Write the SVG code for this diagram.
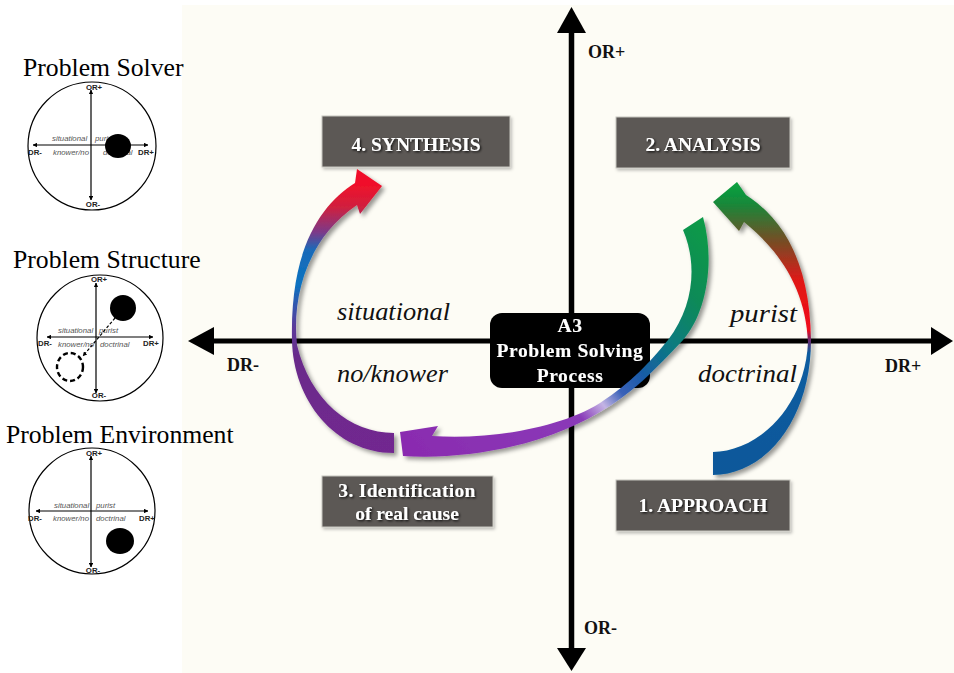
<svg xmlns="http://www.w3.org/2000/svg" width="954" height="673" viewBox="0 0 954 673">
<defs>
<style>
.serif{font-family:"Liberation Serif","Times New Roman",serif}
.sans{font-family:"Liberation Sans",Arial,sans-serif}
.title{font-size:25.7px;fill:#000}
.ax{font-size:7.8px;font-weight:bold;fill:#222}
.q{font-size:7.8px;font-style:italic;fill:#555}
.mini{stroke:#000;stroke-width:1.2;fill:none}
.box{fill:#5b5854;stroke:#c8c6c0;stroke-width:1}
.btxt{font-size:19.5px;font-weight:bold;fill:#fff;text-anchor:middle}
.lbl{font-size:26px;font-style:italic;fill:#111}
.axl{font-size:18px;font-weight:bold;fill:#111}
</style>
<marker id="sm" viewBox="0 0 6 6" refX="5.5" refY="3" markerWidth="4.5" markerHeight="4.5" orient="auto-start-reverse" markerUnits="userSpaceOnUse">
<path d="M0,0 L6,3 L0,6 z" fill="#000"/>
</marker>
<filter id="sh" x="-20%" y="-20%" width="140%" height="140%">
<feDropShadow dx="3" dy="3" stdDeviation="2" flood-color="#000" flood-opacity="0.4"/>
</filter>
<filter id="tsh" x="-10%" y="-30%" width="120%" height="160%">
<feDropShadow dx="1.2" dy="1.2" stdDeviation="0.8" flood-color="#000" flood-opacity="0.85"/>
</filter>
<filter id="bsh" x="-10%" y="-20%" width="120%" height="150%">
<feDropShadow dx="1.5" dy="2" stdDeviation="1.5" flood-color="#000" flood-opacity="0.25"/>
</filter>
<linearGradient id="gA" gradientUnits="userSpaceOnUse" x1="0" y1="185" x2="0" y2="475">
<stop offset="0" stop-color="#0aa040"/>
<stop offset="0.06" stop-color="#158a3a"/>
<stop offset="0.2" stop-color="#7a4a24"/>
<stop offset="0.33" stop-color="#e01818"/>
<stop offset="0.5" stop-color="#f00a1a"/>
<stop offset="0.535" stop-color="#6a2a70"/>
<stop offset="0.58" stop-color="#0a5ca0"/>
<stop offset="1" stop-color="#08589a"/>
</linearGradient>
<linearGradient id="gB" gradientUnits="userSpaceOnUse" x1="700" y1="220" x2="420" y2="450">
<stop offset="0" stop-color="#0a9a48"/>
<stop offset="0.15" stop-color="#0a8a58"/>
<stop offset="0.28" stop-color="#0a7a80"/>
<stop offset="0.40" stop-color="#1a5aa8"/>
<stop offset="0.47" stop-color="#3a62b8"/>
<stop offset="0.53" stop-color="#c4b4e4"/>
<stop offset="0.6" stop-color="#8a3ab8"/>
<stop offset="1" stop-color="#8a2cb0"/>
</linearGradient>
<linearGradient id="gC" gradientUnits="userSpaceOnUse" x1="0" y1="170" x2="0" y2="455">
<stop offset="0.05" stop-color="#f0102a"/>
<stop offset="0.13" stop-color="#d0203e"/>
<stop offset="0.22" stop-color="#7a3a8a"/>
<stop offset="0.28" stop-color="#1a6ab8"/>
<stop offset="0.4" stop-color="#0a72c0"/>
<stop offset="0.55" stop-color="#5a3a9a"/>
<stop offset="0.66" stop-color="#6a2a8a"/>
<stop offset="1" stop-color="#722890"/>
</linearGradient>
</defs>

<rect x="0" y="0" width="954" height="673" fill="#ffffff"/>
<rect x="182" y="5" width="772" height="668" fill="#fdfcf5"/>

<!-- left panel -->
<g id="panel-solver">
<text class="serif title" x="23" y="76">Problem Solver</text>
<circle class="mini" cx="92" cy="146" r="64"/>
<line class="mini" x1="91" y1="90" x2="91" y2="200" marker-start="url(#sm)" marker-end="url(#sm)"/>
<line class="mini" x1="33" y1="145" x2="148" y2="145" marker-start="url(#sm)" marker-end="url(#sm)"/>
<text class="sans ax" x="94" y="89.5" text-anchor="middle">OR+</text>
<text class="sans ax" x="93" y="207" text-anchor="middle">OR-</text>
<text class="sans ax" x="28" y="155">DR-</text>
<text class="sans ax" x="138" y="155">DR+</text>
<text class="sans q" x="52" y="141">situational</text>
<text class="sans q" x="95" y="141">purist</text>
<text class="sans q" x="53" y="155">knower/no</text>
<text class="sans q" x="103" y="155">doctrinal</text>
<ellipse cx="118" cy="146" rx="13" ry="12" fill="#000"/>
</g>

<g id="panel-structure">
<text class="serif title" x="13" y="268">Problem Structure</text>
<circle class="mini" cx="100" cy="338" r="63"/>
<line class="mini" x1="96" y1="283" x2="96" y2="393" marker-start="url(#sm)" marker-end="url(#sm)"/>
<line class="mini" x1="47" y1="337" x2="153" y2="337" marker-start="url(#sm)" marker-end="url(#sm)"/>
<text class="sans ax" x="99" y="282" text-anchor="middle">OR+</text>
<text class="sans ax" x="99" y="398" text-anchor="middle">OR-</text>
<text class="sans ax" x="38" y="346">DR-</text>
<text class="sans ax" x="143" y="346">DR+</text>
<text class="sans q" x="58" y="333">situational</text>
<text class="sans q" x="99" y="333">purist</text>
<text class="sans q" x="58" y="347">knower/no</text>
<text class="sans q" x="100" y="347">doctrinal</text>
<ellipse cx="123" cy="308" rx="13" ry="13" fill="#000"/>
<ellipse cx="70" cy="367" rx="13" ry="14" fill="none" stroke="#000" stroke-width="2.4" stroke-dasharray="5,3"/>
<line x1="115" y1="318" x2="83" y2="356" stroke="#000" stroke-width="1.2" stroke-dasharray="3,2" marker-end="url(#sm)"/>
</g>

<g id="panel-environment">
<text class="serif title" x="6" y="443">Problem Environment</text>
<circle class="mini" cx="92" cy="511" r="63"/>
<line class="mini" x1="91" y1="456" x2="91" y2="567" marker-start="url(#sm)" marker-end="url(#sm)"/>
<line class="mini" x1="36" y1="511" x2="148" y2="511" marker-start="url(#sm)" marker-end="url(#sm)"/>
<text class="sans ax" x="94" y="455.5" text-anchor="middle">OR+</text>
<text class="sans ax" x="93" y="573" text-anchor="middle">OR-</text>
<text class="sans ax" x="28" y="521">DR-</text>
<text class="sans ax" x="139" y="521">DR+</text>
<text class="sans q" x="54" y="508">situational</text>
<text class="sans q" x="96" y="508">purist</text>
<text class="sans q" x="53" y="521">knower/no</text>
<text class="sans q" x="96" y="521">doctrinal</text>
<ellipse cx="120" cy="541" rx="14" ry="13" fill="#000"/>
</g>

<!-- main axes -->
<g id="axes">
<line x1="571.5" y1="30" x2="571.5" y2="650" stroke="#000" stroke-width="5.5"/>
<polygon points="571.5,7 557,33 586,33" fill="#000"/>
<polygon points="571.5,671 557,648 586,648" fill="#000"/>
<line x1="210" y1="341" x2="934" y2="341" stroke="#000" stroke-width="5"/>
<polygon points="188,341 214,327 214,355" fill="#000"/>
<polygon points="953,341 931,327 931,355" fill="#000"/>
<text class="serif axl" x="588" y="58">OR+</text>
<text class="serif axl" x="584" y="634">OR-</text>
<text class="serif axl" x="227" y="371">DR-</text>
<text class="serif axl" x="885" y="372">DR+</text>
</g>

<g id="quadrant-labels">
<text class="serif lbl" x="337" y="320" textLength="113" lengthAdjust="spacingAndGlyphs">situational</text>
<text class="serif lbl" x="337" y="382" textLength="111" lengthAdjust="spacingAndGlyphs">no/knower</text>
<text class="serif lbl" x="730" y="322" textLength="67" lengthAdjust="spacingAndGlyphs">purist</text>
<text class="serif lbl" x="698" y="382" textLength="99" lengthAdjust="spacingAndGlyphs">doctrinal</text>
</g>

<g id="node-center">
<rect x="490" y="313" width="160" height="75" rx="12" ry="12" fill="#000"/>
<g filter="url(#tsh)">
<text class="serif btxt" x="570" y="332" letter-spacing="0.6">A3</text>
<text class="serif btxt" x="570" y="357" letter-spacing="0.6">Problem Solving</text>
<text class="serif btxt" x="570" y="382" letter-spacing="0.6">Process</text>
</g>
</g>

<g id="node-synthesis">
<rect class="box" x="322" y="116" width="188" height="51" filter="url(#bsh)"/>
<text class="serif btxt" x="416" y="151" filter="url(#tsh)">4. SYNTHESIS</text>
</g>
<g id="node-analysis">
<rect class="box" x="616" y="117" width="174" height="51" filter="url(#bsh)"/>
<text class="serif btxt" x="703" y="151" filter="url(#tsh)">2. ANALYSIS</text>
</g>
<g id="node-identification">
<rect class="box" x="322" y="476" width="171" height="51" filter="url(#bsh)"/>
<g filter="url(#tsh)">
<text class="serif btxt" x="407" y="497" letter-spacing="0.3">3. Identification</text>
<text class="serif btxt" x="407" y="520">of real cause</text>
</g>
</g>
<g id="node-approach">
<rect class="box" x="616" y="480" width="174" height="51" filter="url(#bsh)"/>
<text class="serif btxt" x="703" y="512" filter="url(#tsh)">1. APPROACH</text>
</g>

<!-- connectors -->
<g id="connectors" filter="url(#sh)">
<path id="arrow-approach-analysis" fill="url(#gA)" d="M713,452 C755,452 805,410 808,342 C806,295 785,255 744,222 L739,231 L713,202 L737,182 L746,195 C785,220 810,265 811,340 C811,420 765,475 713,475 Z"/>
<path id="arrow-analysis-identification" fill="url(#gB)" d="M683,230 C697,262 695,305 668,340 C650,362 632,382 600,403 C560,428 490,440 432,436 L438,426 L400,432 L403,456 C470,460 545,445 600,412 C630,395 655,370 683,340 C705,315 716,265 703,217 Z"/>
<path id="arrow-identification-synthesis" fill="url(#gC)" d="M394,433 C350,433 310,400 297,345 C292,300 305,240 357,205 L360,214 L382,186 L357,169 L355,183 C320,205 290,250 292,340 C293,400 335,453 394,453 Z"/>
</g>
</svg>
